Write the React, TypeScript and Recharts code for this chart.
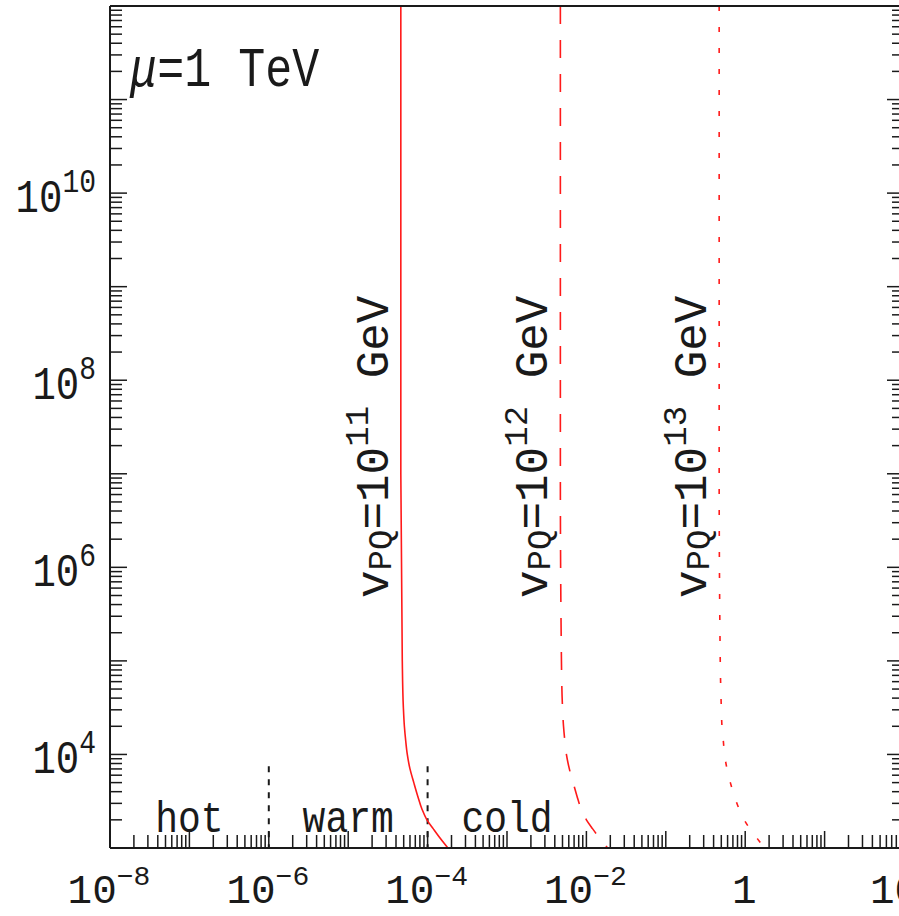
import { LineChart, Line, XAxis, YAxis, ReferenceDot } from 'recharts';

const FONT = '"Liberation Mono", "Courier New", monospace';
const INK = '#1a1a1a';
const RED = '#ff1a1a';
const SY = 1.2; // the typewriter glyphs in the figure are a bit taller than wide

// reheating temperature along each curve, top to bottom
const temps = [1e12, 1e7, 1e5, 3.2e4, 2e4, 1.4e4, 1e4, 7e3, 5e3, 3.6e3, 2.6e3, 2e3, 1.6e3, 1.26e3, 1e3];
// mass at those temperatures
const mass11 = [4.6e-5, 4.6e-5, 4.8e-5, 4.95e-5, 5.1e-5, 5.3e-5, 5.55e-5, 6.0e-5, 6.7e-5, 7.5e-5, 8.5e-5, 9.8e-5, 1.18e-4, 1.45e-4, 1.8e-4];
const mass12 = [4.7e-3, 4.7e-3, 4.85e-3, 5.0e-3, 5.15e-3, 5.35e-3, 5.6e-3, 6.1e-3, 6.8e-3, 7.6e-3, 8.6e-3, 1.0e-2, 1.2e-2, 1.48e-2, 1.85e-2];
const mass13 = [0.47, 0.47, 0.485, 0.5, 0.51, 0.53, 0.55, 0.59, 0.65, 0.73, 0.84, 0.97, 1.15, 1.42, 1.75];

const curveMasses = [mass11, mass12, mass13];
const vpqExps = ['11', '12', '13'];
const curveDash = [undefined, '18 16', '5 16'];
const vpqLabelTemp = 4.7e5;

const regionNames = ['hot', 'warm', 'cold'];
const regionCenters = [1e-7, 1e-5, 1e-3];
const regionLabelTemp = 1.5e3;
const regionEdges = [1e-6, 1e-4];
const regionEdgeTop = 7.5e3;

const xTickLabels = [
  { value: 1e-8, base: '10', exp: '−8' },
  { value: 1e-6, base: '10', exp: '−6' },
  { value: 1e-4, base: '10', exp: '−4' },
  { value: 1e-2, base: '10', exp: '−2' },
  { value: 1, base: '1', exp: '' },
  { value: 1e2, base: '10', exp: '2' },
];
const yTickLabels = [
  { value: 1e4, exp: '4' },
  { value: 1e6, exp: '6' },
  { value: 1e8, exp: '8' },
  { value: 1e10, exp: '10' },
];

function logTicks(lo: number, hi: number) {
  const out: number[] = [];
  for (let d = lo; d < hi; d++) for (let k = 1; k < 10; k++) out.push(Number(`${k}e${d}`));
  out.push(Number(`1e${hi}`));
  return out;
}
const xTicks = logTicks(-8, 2);
const yTicks = logTicks(3, 12);

const same = (a: number, b: number) => Math.abs(Math.log10(a) - Math.log10(b)) < 1e-6;
const isDecade = (v: number) => Math.abs(Math.log10(v) - Math.round(Math.log10(v))) < 1e-6;

function XTick(props: any) {
  const { x, y, payload, top } = props;
  const v = payload.value;
  const len = isDecade(v) ? 17 : 13;
  const lab = top ? undefined : xTickLabels.find((l) => same(l.value, v));
  return (
    <g>
      <line x1={x} x2={x} y1={y} y2={top ? y + len : y - len} stroke={INK} strokeWidth={1.5} />
      {lab && (
        <text x={x - 1} y={y + 55} textAnchor="middle" fontFamily={FONT} fontSize={41} fill={INK}>
          {lab.base}
          {lab.exp && <tspan fontSize={28} dy={-18}>{lab.exp}</tspan>}
        </text>
      )}
    </g>
  );
}

function YTick(props: any) {
  const { x, y, payload, right } = props;
  const v = payload.value;
  const len = isDecade(v) ? 17 : 12;
  const lab = right ? undefined : yTickLabels.find((l) => same(l.value, v));
  return (
    <g>
      <line x1={x} x2={right ? x - len : x + len} y1={y} y2={y} stroke={INK} strokeWidth={1.5} />
      {lab && (
        <text transform={`translate(${x - 14},${y + 19}) scale(1,${SY})`} textAnchor="end" fontFamily={FONT} fontSize={39} fill={INK}>
          10
          <tspan fontSize={28} dy={-17}>{lab.exp}</tspan>
        </text>
      )}
    </g>
  );
}

export default function App() {
  const axisLine = { stroke: INK, strokeWidth: 2 };
  return (
    <div style={{ position: 'absolute', left: 0, top: 0, width: 899, height: 916, overflow: 'hidden', background: '#fff' }}>
      <LineChart width={960} height={916} margin={{ top: 5, right: 55, bottom: 67, left: 109 }}>
        <XAxis dataKey="m" type="number" scale="log" domain={[1e-8, 1e2]} allowDataOverflow ticks={xTicks} interval={0}
          height={1} tickSize={0} tickMargin={0} tickLine={false} axisLine={axisLine} tick={(p: any) => <XTick {...p} />} />
        <XAxis xAxisId="top" orientation="top" type="number" scale="log" domain={[1e-8, 1e2]} allowDataOverflow ticks={xTicks} interval={0}
          height={1} tickSize={0} tickMargin={0} tickLine={false} axisLine={axisLine} tick={(p: any) => <XTick {...p} top />} />
        <YAxis type="number" scale="log" domain={[1e3, 1e12]} allowDataOverflow ticks={yTicks} interval={0}
          width={1} tickSize={0} tickMargin={0} tickLine={false} axisLine={axisLine} tick={(p: any) => <YTick {...p} />} />
        <YAxis yAxisId="right" orientation="right" type="number" scale="log" domain={[1e3, 1e12]} allowDataOverflow ticks={yTicks} interval={0}
          width={1} tickSize={0} tickMargin={0} tickLine={false} axisLine={axisLine} tick={(p: any) => <YTick {...p} right />} />

        {regionEdges.map((m) => (
          <Line key={`edge-${m}`} data={[{ m, t: regionEdgeTop }, { m, t: 1e3 }]} dataKey="t" stroke={INK} strokeWidth={2}
            strokeDasharray="6 7" dot={false} activeDot={false} isAnimationActive={false} />
        ))}

        {curveMasses.map((mass, i) => (
          <Line key={`vpq-${i}`} type="monotoneY" data={mass.map((m, j) => ({ m, t: temps[j] }))} dataKey="t" stroke={RED} strokeWidth={1.6}
            strokeDasharray={curveDash[i]} dot={false} activeDot={false} isAnimationActive={false} />
        ))}

        {curveMasses.map((mass, i) => (
          <ReferenceDot key={`lab-${i}`} x={mass[0]} y={vpqLabelTemp} r={0} ifOverflow="visible"
            shape={(p: any) => (
              <text transform={`translate(${p.cx - 13},${p.cy}) rotate(-90)`} fontFamily={FONT} fontSize={46} fill={INK} style={{ whiteSpace: 'pre' }}>
                v<tspan fontSize={34} dy={3}>PQ</tspan>
                <tspan dy={-3}>=10</tspan>
                <tspan fontSize={34} dy={-20}>{vpqExps[i]}</tspan>
                <tspan dy={20}> GeV</tspan>
              </text>
            )} />
        ))}

        {regionNames.map((name, i) => (
          <ReferenceDot key={name} x={regionCenters[i]} y={regionLabelTemp} r={0} ifOverflow="visible"
            shape={(p: any) => (
              <text transform={`translate(${p.cx},${p.cy}) scale(1,1.15)`} textAnchor="middle" fontFamily={FONT} fontSize={38} fill={INK}>
                {name}
              </text>
            )} />
        ))}

        <ReferenceDot x={1.8e-8} y={1.4e11} r={0} ifOverflow="visible"
          shape={(p: any) => (
            <text transform={`translate(${p.cx},${p.cy}) scale(1,1.22)`} fontFamily={FONT} fontSize={45} fill={INK} style={{ whiteSpace: 'pre' }}>
              <tspan fontStyle="italic">μ</tspan>=1 TeV
            </text>
          )} />
      </LineChart>
    </div>
  );
}
